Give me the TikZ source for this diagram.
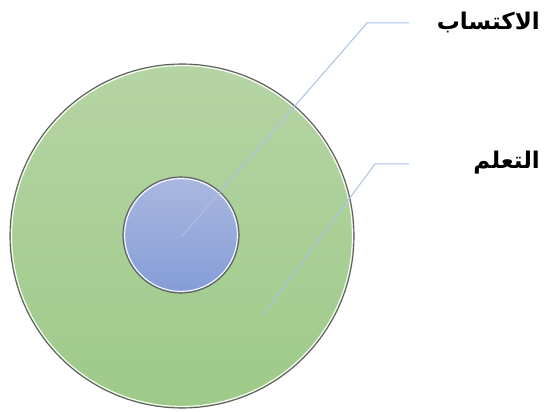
\documentclass[tikz,border=0pt]{standalone}
\usepackage{fontspec}
\usepackage{tikz}
\usetikzlibrary{positioning, calc}
\TeXXeTstate=1
\newfontfamily\arabicfont[Script=Arabic]{DejaVu Sans}
\definecolor{greentop}{RGB}{181,212,164}
\definecolor{greenbot}{RGB}{158,202,136}
\definecolor{bluetop}{RGB}{170,184,224}
\definecolor{bluebot}{RGB}{132,156,215}
\definecolor{calloutblue}{RGB}{172,192,230}
\definecolor{ringgray}{RGB}{95,95,95}
\tikzset{
  ring/.style={circle, draw=ringgray, line width=1.1pt, inner sep=0pt},
  callout/.style={draw=calloutblue, line width=1pt},
  arlabel/.style={font=\arabicfont\bfseries\fontsize{23}{27}\selectfont, anchor=east, inner sep=0pt}
}

\begin{document}
\begin{tikzpicture}[x=1pt, y=-1pt]

    \useasboundingbox (0,0) rectangle (550,412);

    % --- Circles ---
    % Outer circle: learning
    \node[ring, minimum size=344pt, top color=greentop, bottom color=greenbot] (learn) at (182,236) {};
    \draw[white, line width=1pt] (learn.center) circle (170.4pt);

    % Inner circle: acquisition
    \node[ring, minimum size=116pt, top color=bluetop, bottom color=bluebot] (acq) at (181,235) {};
    \draw[white, line width=1pt] (acq.center) circle (56.4pt);

    % --- Labels ---
    \node[arlabel] (acqlabel) at (540,22) {\beginR الاكتساب\endR};
    \node[arlabel] (learnlabel) at (540,163) {\beginR التعلم\endR};

    % --- Callout lines ---
    \coordinate (acqdot) at (182,236);
    \coordinate (acqbend) at (367,23);
    \coordinate (acqend) at (409,23);
    \draw[callout] (acqdot) -- (acqbend) -- (acqend);

    \coordinate (learndot) at (263,315);
    \coordinate (learnbend) at (375,164);
    \coordinate (learnend) at (409,164);
    \draw[callout] (learndot) -- (learnbend) -- (learnend);

\end{tikzpicture}
\end{document}
